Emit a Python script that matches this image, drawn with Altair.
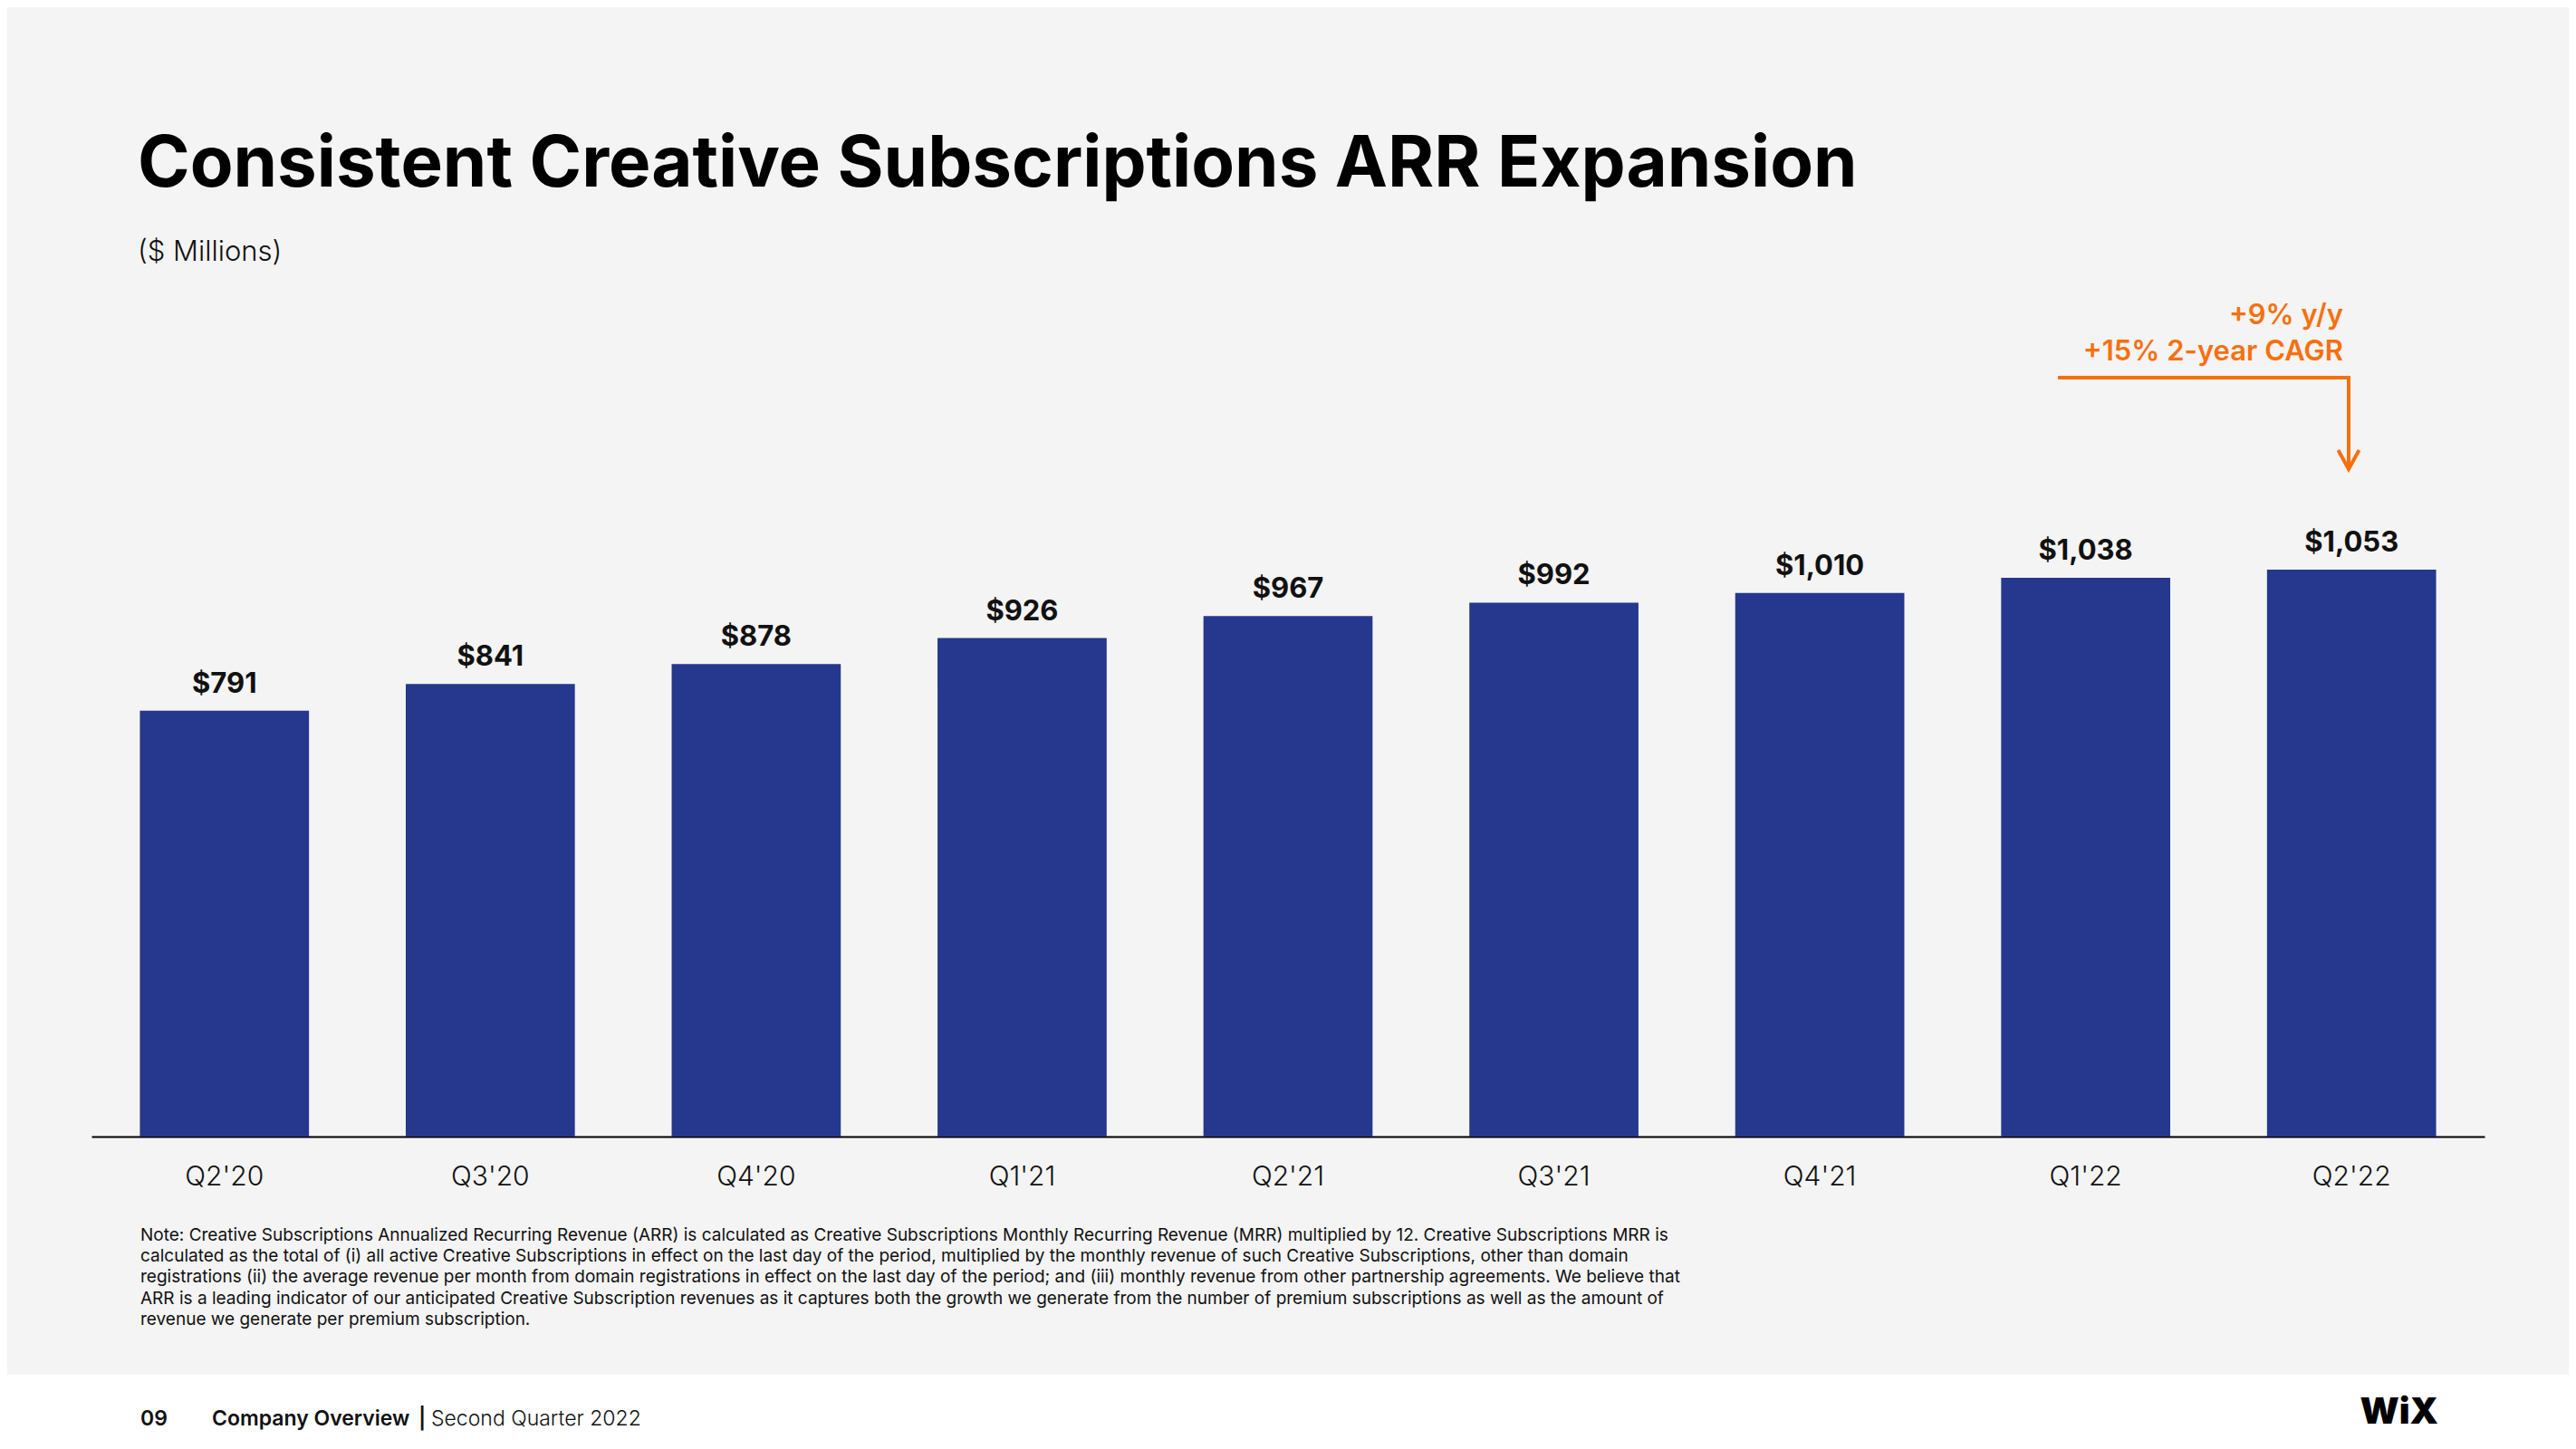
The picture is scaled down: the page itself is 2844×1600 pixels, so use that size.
import altair as alt
import pandas as pd

# ---- data ----
quarters = ["Q2'20", "Q3'20", "Q4'20", "Q1'21", "Q2'21", "Q3'21", "Q4'21", "Q1'22", "Q2'22"]
arr_values = [791, 841, 878, 926, 967, 992, 1010, 1038, 1053]

title_text = "Consistent Creative Subscriptions ARR Expansion"
subtitle_text = "($ Millions)"
callout_line1 = "+9% y/y"
callout_line2 = "+15% 2-year CAGR"
note_lines = [
    "Note: Creative Subscriptions Annualized Recurring Revenue (ARR) is calculated as Creative Subscriptions Monthly Recurring Revenue (MRR) multiplied by 12. Creative Subscriptions MRR is",
    "calculated as the total of (i) all active Creative Subscriptions in effect on the last day of the period, multiplied by the monthly revenue of such Creative Subscriptions, other than domain",
    "registrations (ii) the average revenue per month from domain registrations in effect on the last day of the period; and (iii) monthly revenue from other partnership agreements. We believe that",
    "ARR is a leading indicator of our anticipated Creative Subscription revenues as it captures both the growth we generate from the number of premium subscriptions as well as the amount of",
    "revenue we generate per premium subscription.",
]
footer_page = "09"
footer_section = "Company Overview"
footer_sep = "|"
footer_period = "Second Quarter 2022"
logo_text = "WiX"

df = pd.DataFrame({"quarter": quarters, "arr": arr_values})
one = pd.DataFrame({"k": [0]})

# ---- style ----
W, H = 2642, 951
FONT = "Inter"
BLUE = "#25388D"
ORANGE = "#F7700F"
BG = "#F4F4F4"
INK = "#111111"

x_enc = alt.X(
    "quarter:N",
    sort=quarters,
    scale=alt.Scale(paddingInner=0.364, paddingOuter=0.182),
    axis=alt.Axis(
        title=None,
        labelAngle=0,
        labelFont=FONT,
        labelFontSize=30,
        labelFontWeight=300,
        labelColor=INK,
        labelPadding=29,
        ticks=False,
        tickSize=0,
        domainColor="#000000",
        domainWidth=2,
        grid=False,
    ),
)
y_enc = alt.Y("arr:Q", scale=alt.Scale(domain=[0, 1600], nice=False), axis=None)

footer_bg = alt.Chart(one).mark_rect(color="white").encode(
    x=alt.value(-120), x2=alt.value(2800), y=alt.value(1214), y2=alt.value(1400)
)

bars = alt.Chart(df).mark_bar(color=BLUE).encode(x=x_enc, y=y_enc)

values = alt.Chart(df).mark_text(
    dy=-20, baseline="alphabetic", font=FONT, fontWeight="bold", fontSize=31, color=INK
).encode(
    x=alt.X("quarter:N", sort=quarters),
    y="arr:Q",
    text=alt.Text("arr:Q", format="$,.0f"),
)

def txt(text, x, y, size, weight="normal", color=INK, align="left"):
    return alt.Chart(one).mark_text(
        text=text, align=align, baseline="alphabetic", font=FONT,
        fontSize=size, fontWeight=weight, color=color,
    ).encode(x=alt.value(x), y=alt.value(y))

callout1 = txt(callout_line1, 2486, 54, 31, 600, ORANGE, "right")
callout2 = txt(callout_line2, 2486, 94, 31, 600, ORANGE, "right")

arrow_h = alt.Chart(one).mark_rule(color=ORANGE, strokeWidth=4, strokeCap="square").encode(
    x=alt.value(2173), x2=alt.value(2492), y=alt.value(113)
)
arrow_v = alt.Chart(one).mark_rule(color=ORANGE, strokeWidth=4).encode(
    x=alt.value(2492), y=alt.value(113), y2=alt.value(212)
)
arrow_head = alt.Chart(one).mark_point(
    shape="M -0.55 -1 L 0 0 L 0.55 -1", filled=False, stroke=ORANGE,
    strokeWidth=4, size=1764, opacity=1,
).encode(x=alt.value(2492), y=alt.value(214))

note = alt.Chart(one).mark_text(
    text=note_lines, align="left", baseline="alphabetic", font=FONT,
    fontSize=19, lineHeight=23.2, color=INK,
).encode(x=alt.value(54), y=alt.value(1066))

f1 = txt(footer_page, 54, 1270, 23, 600)
f2 = txt(footer_section, 133, 1270, 23, 600)
f3 = txt(footer_sep, 361, 1270, 23, 600)
f4 = txt(footer_period, 375, 1270, 23, 300)
logo = alt.Chart(one).mark_text(
    text=logo_text, align="right", baseline="alphabetic", font=FONT,
    fontSize=40, fontWeight=900, color="#000000",
).encode(x=alt.value(2591), y=alt.value(1268))

chart = alt.layer(
    footer_bg, bars, values, callout1, callout2, arrow_h, arrow_v, arrow_head,
    note, f1, f2, f3, f4, logo,
).properties(
    width=W,
    height=H,
    autosize="none",
    padding={"left": 93, "top": 296, "right": 93, "bottom": 337},
    background=BG,
    title=alt.Title(
        title_text,
        subtitle=subtitle_text,
        anchor="start",
        frame="group",
        orient="top",
        dx=51,
        offset=10,
        subtitlePadding=42,
        font=FONT,
        fontSize=78,
        fontWeight="bold",
        color="#000000",
        subtitleFont=FONT,
        subtitleFontSize=31,
        subtitleFontWeight=300,
        subtitleColor=INK,
    ),
).configure_view(stroke=None)

chart.save("out.html", embed_options={"renderer": "svg", "actions": False})
